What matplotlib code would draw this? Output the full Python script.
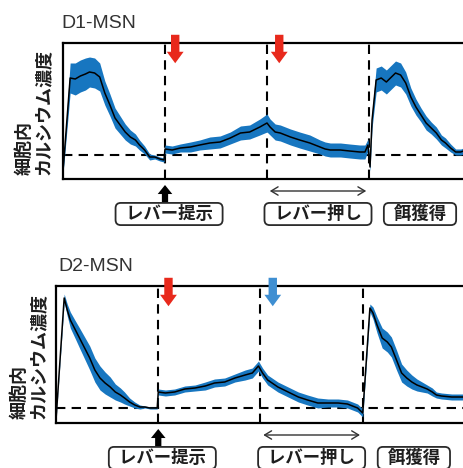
import numpy as np
import matplotlib
matplotlib.use('Agg')
import matplotlib.pyplot as plt

plt.rcParams['font.family'] = ['Noto Sans CJK JP', 'DejaVu Sans']

# time axis: 0-1 before lever, 1-2 lever shown, 2-3 lever pressed, 3-4 reward
d1_t = [0.00, 0.01, 0.07, 0.12, 0.17, 0.22, 0.26, 0.31, 0.36, 0.41, 0.46, 0.51,
        0.56, 0.61, 0.66, 0.71, 0.75, 0.80, 0.85, 0.90, 0.95, 0.99,
        1.00, 1.07, 1.15, 1.25, 1.34, 1.44, 1.54, 1.64, 1.74, 1.83, 1.93, 2.00,
        2.03, 2.08, 2.13, 2.23, 2.32, 2.42, 2.52, 2.57, 2.62, 2.72, 2.81, 2.91,
        2.96, 2.99, 3.01, 3.03, 3.07, 3.12, 3.17, 3.22, 3.26, 3.31, 3.36, 3.41,
        3.46, 3.51, 3.56, 3.61, 3.66, 3.71, 3.75, 3.80, 3.85, 3.90, 3.95, 4.00]
d1_mean = [9, 21, 101, 100, 103, 105, 107, 106, 102, 86, 74, 61,
           54, 47, 42, 39, 34, 29, 22, 22, 20, 19,
           30, 29, 31, 32, 34, 36, 37, 41, 46, 47, 52, 56,
           52, 47, 46, 42, 39, 36, 32, 30, 29, 29, 28, 27,
           27, 34, 12, 59, 99, 101, 97, 102, 106, 104, 96, 82,
           72, 64, 56, 51, 46, 39, 36, 31, 27, 27, 29, 28]
d1_sem = [3, 5, 15, 16, 16, 16, 15, 15, 14, 12, 11, 10,
          9, 8, 7, 6, 5, 4, 3, 2, 2, 2,
          4, 4, 4, 5, 5, 6, 6, 6, 7, 7, 8, 9,
          8, 8, 8, 8, 8, 8, 7, 7, 7, 7, 7, 7,
          7, 6, 4, 8, 12, 12, 12, 12, 12, 12, 11, 9,
          8, 7, 7, 6, 6, 5, 5, 4, 3, 3, 3, 3]

d2_t = [0.00, 0.08, 0.11, 0.14, 0.19, 0.23, 0.28, 0.33, 0.38, 0.43, 0.48, 0.53,
        0.58, 0.63, 0.67, 0.72, 0.77, 0.82, 0.87, 0.92, 0.99,
        1.00, 1.07, 1.16, 1.26, 1.36, 1.46, 1.55, 1.65, 1.75, 1.85, 1.92, 1.98,
        2.02, 2.07, 2.17, 2.27, 2.37, 2.46, 2.56, 2.66, 2.76, 2.85, 2.95, 3.00,
        3.07, 3.10, 3.14, 3.19, 3.24, 3.28, 3.33, 3.38, 3.43, 3.48, 3.53, 3.58,
        3.63, 3.68, 3.72, 3.77, 3.87, 3.98]
d2_mean = [3, 125, 113, 103, 93, 85, 75, 65, 53, 45, 40, 36,
           31, 28, 25, 21, 18, 16, 16, 15, 15,
           31, 30, 31, 34, 35, 37, 40, 41, 45, 48, 50, 57,
           50, 43, 36, 31, 26, 23, 20, 20, 20, 19, 15, 10,
           115, 110, 98, 85, 81, 76, 63, 50, 45, 41, 38, 36,
           34, 31, 28, 27, 26, 26]
d2_sem = [1, 4, 6, 8, 9, 10, 11, 12, 12, 12, 11, 10,
          8, 7, 6, 4, 3, 2, 1, 1, 1,
          3, 3, 3, 3, 3, 4, 4, 4, 4, 5, 5, 5,
          5, 5, 5, 5, 5, 5, 5, 4, 4, 4, 4, 4,
          4, 6, 8, 10, 10, 10, 10, 9, 8, 7, 6, 5,
          4, 4, 3, 3, 3, 3]

event_names = ['レバー提示', 'レバー押し', '餌獲得']
event_pos = [1.04, 2.5, 3.5]

BLUE = '#1776c0'
RED = '#e8291c'
LIGHTBLUE = '#3f8fd2'
INK = '#1e1e1e'

#=====================================

def draw_panel(fig, rect, t, mean, sem, ytop, base, title, arrow_cols, title_x, ylab_x):
    ax = fig.add_axes(rect)
    ax.fill_between(t, np.array(mean) - np.array(sem), np.array(mean) + np.array(sem),
                    color=BLUE, lw=0, zorder=2)
    ax.plot(t, mean, color='black', lw=1.1, zorder=3)

    for x in [1, 2, 3]:
        ax.axvline(x, color='black', lw=1.5, ls=(0, (4.5, 3)), zorder=1)
    ax.axhline(base, color='black', lw=1.5, ls=(0, (4.5, 3)), zorder=1)

    ax.set_xlim(0, 4)
    ax.set_ylim(0, ytop)
    ax.set_xticks([])
    ax.set_yticks([])
    for s in ['left', 'top', 'bottom']:
        ax.spines[s].set_linewidth(1.6)
    ax.spines['right'].set_visible(False)

    # event arrows above the plot
    for x, c in zip([1.1, 2.12], arrow_cols):
        ax.annotate('', xy=(x, ytop - 23), xytext=(x, ytop + 11), annotation_clip=False,
                    arrowprops=dict(arrowstyle='simple,head_length=0.75,head_width=1.1,tail_width=0.55',
                                    color=c, mutation_scale=11, lw=0))

    # lever up-arrow and press duration
    ax.annotate('', xy=(1, -6), xytext=(1, -24), annotation_clip=False,
                arrowprops=dict(arrowstyle='simple,head_length=0.65,head_width=1.05,tail_width=0.45',
                                color='black', mutation_scale=10, lw=0,
                                shrinkA=0, shrinkB=0))
    ax.annotate('', xy=(2.0, -12), xytext=(3.0, -12), annotation_clip=False,
                arrowprops=dict(arrowstyle='<->,head_length=0.5,head_width=0.3',
                                color='#333333', lw=1.0))

    for name, x in zip(event_names, event_pos):
        ax.text(x, -35, '  ' + name + '  ', ha='center', va='center', fontsize=12.5,
                color=INK, fontweight='bold', clip_on=False,
                bbox=dict(boxstyle='round,pad=0.12,rounding_size=0.3', fc='white',
                          ec='#2a2a2a', lw=1.3))

    fig.text(title_x, rect[1] + rect[3] + 0.033, title, fontsize=14, color='#333333',
             family='Liberation Sans', ha='left', va='baseline')
    fig.text(ylab_x, rect[1] + 0.008, '細胞内\nカルシウム濃度', rotation=90, fontsize=13,
             color=INK, fontweight='bold', ha='center', va='bottom',
             multialignment='left', linespacing=1.0)
    return ax

#=====================================

def main():
    W, H = 464, 468
    fig = plt.figure(figsize=(W / 100, H / 100), dpi=100)

    draw_panel(fig, [63 / W, (H - 179) / H, 408 / W, 136 / H], d1_t, d1_mean, d1_sem,
               136, 24, 'D1-MSN', [RED, RED], 61 / W, 34 / W)
    draw_panel(fig, [56 / W, (H - 423) / H, 409 / W, 137 / H], d2_t, d2_mean, d2_sem,
               137, 15, 'D2-MSN', [RED, LIGHTBLUE], 58 / W, 29 / W)

    fig.savefig('out.png', dpi=100)

#=====================================

if __name__ == "__main__":
    main()
